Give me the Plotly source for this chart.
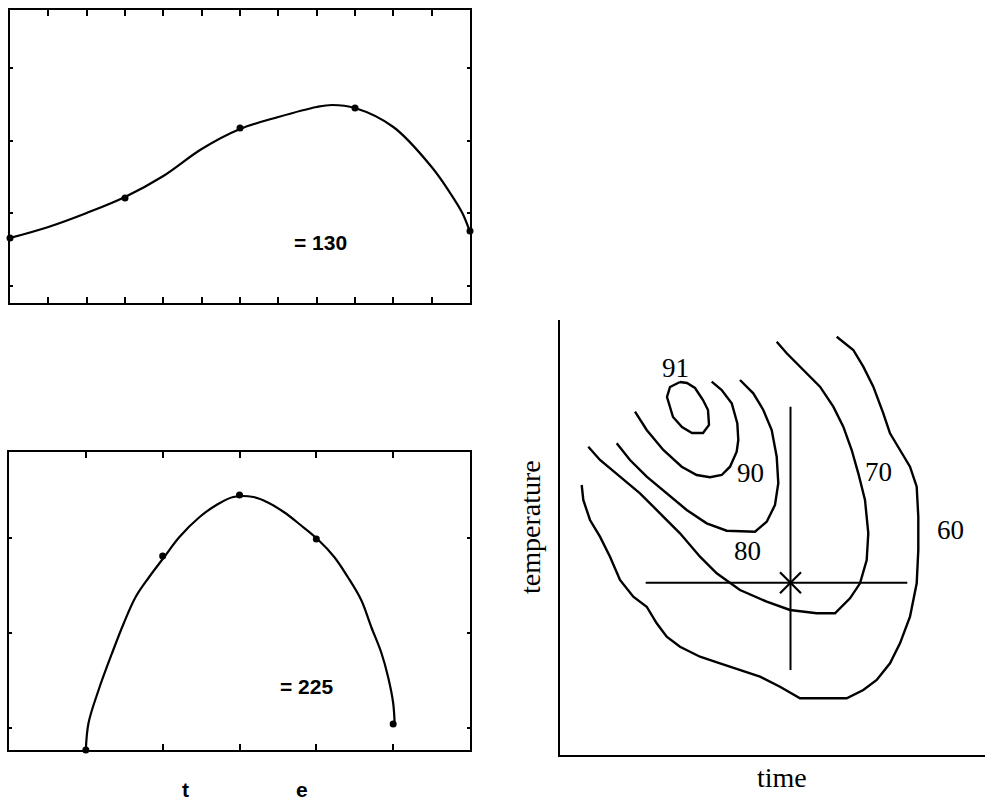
import plotly.graph_objects as go

# ---------------- Data ----------------
# Top-left panel (x in tick units 0..12, y in arbitrary response units)
top_pts_x = [0, 3, 6, 9, 12]
top_pts_y = [65, 105, 175, 195, 72]
top_curve_x = [0, 1, 2, 3, 4, 5, 6, 7, 8, 8.4, 9, 10, 11, 11.5, 11.8, 12]
top_curve_y = [65, 76, 90, 106, 127, 154, 174, 186, 196, 198, 195, 176, 136, 109, 90, 71]
top_label = "= 130"

# Bottom-left panel (x in tick units 0..6)
bot_pts_x = [1, 2, 3, 4, 5]
bot_pts_y = [0, 194, 255, 211, 26]
bot_curve_x = [1.0, 1.035, 1.166, 1.342, 1.495, 1.648, 1.824, 2.02, 2.218, 2.481, 2.7, 2.919,
               3.182, 3.357, 3.576, 3.795, 4.014, 4.233, 4.409, 4.584, 4.715, 4.847, 4.934, 5.0, 5.02]
bot_curve_y = [0, 27, 60, 97, 127, 153, 173, 193, 213, 233, 245, 253,
               253, 248, 238, 225, 211, 193, 173, 150, 123, 97, 73, 47, 25]
bot_label = "= 225"
bot_axis_letters = ["t", "e"]

# Right panel: contour lines (time, temperature)
c91_t = [120, 127, 135, 143, 148, 149, 143, 132, 122, 113, 110, 107, 110, 120]
c91_T = [373, 372, 367, 355, 345, 330, 322, 322, 328, 338, 348, 358, 368, 373]

c90_t = [75, 86.7, 103.3, 121.7, 136.7, 150, 161.7, 170, 176.7, 178.3, 177.3, 171.7, 161.7, 151.7]
c90_T = [343.3, 325, 305, 288.3, 280, 277.7, 280, 288.3, 303.3, 315, 331.7, 351.7, 365, 373.3]

c80_t = [56.7, 70, 86.7, 106.7, 126.7, 146.7, 166.7, 195, 206.7, 215, 218.3, 216.7, 211.7, 203.3, 193.3, 180]
c80_T = [311.7, 295, 278.3, 261.7, 245, 231.7, 224.3, 223.3, 233.3, 250, 271.7, 298.3, 325, 345, 361.7, 375]

c70_t = [28.3, 40, 60, 80, 100, 120, 140, 156.7, 180, 206.7, 230, 256.7, 275, 290, 300, 306.7,
         308.3, 305, 298.3, 291.7, 283.3, 273.3, 260, 240, 226.7, 216.7]
c70_T = [308.3, 295, 278.3, 261.7, 241.7, 221.7, 198.3, 181.7, 165, 153.3, 145, 141.7, 141.7, 156.7,
         171.7, 195, 221.7, 255, 281.7, 305, 328.3, 348.3, 368.3, 388.3, 401.7, 413.3]

c60_t = [21.7, 23.3, 30, 40, 50, 60, 73.3, 86.7, 96.7, 106.7, 120, 140, 160, 180, 200, 220, 233.3,
         240, 260, 286.7, 303.3, 316.7, 330, 340, 350, 356.7, 358.3, 358.3, 356.7, 350, 340, 330,
         323.3, 313.3, 303.3, 293.3, 276.7]
c60_T = [270, 255, 235, 218.3, 198.3, 175, 158.3, 148.3, 131.7, 118.3, 108.3, 98.3, 91.7, 85, 78.3,
         68.3, 60, 56.7, 56.7, 56.7, 65, 75, 91.7, 111.7, 138.3, 171.7, 205, 238.3, 268.3, 288.3,
         305, 321.7, 341.7, 368.3, 388.3, 405, 418.3]

contour_t = [c91_t, c90_t, c80_t, c70_t, c60_t]
contour_T = [c91_T, c90_T, c80_T, c70_T, c60_T]
contour_labels = ["91", "90", "80", "70", "60"]
label_t = [115, 190.7, 187.3, 318.3, 390]
label_T = [386.7, 281.7, 204.3, 283.3, 225]

# Optimum point and its cross-hair
opt_t, opt_T = 230.5, 172.3
vline_T = [85, 348.3]
hline_t = [85.7, 347.3]

W, H = 986, 800

fig = go.Figure()

# ---------------- Top-left panel ----------------
fig.add_trace(go.Scatter(x=top_curve_x, y=top_curve_y, mode="lines", line=dict(color="black", width=2.2, shape="spline"),
                         xaxis="x", yaxis="y", cliponaxis=False, hoverinfo="skip"))
fig.add_trace(go.Scatter(x=top_pts_x, y=top_pts_y, mode="markers", marker=dict(color="black", size=7),
                         xaxis="x", yaxis="y", cliponaxis=False))

# ---------------- Bottom-left panel ----------------
fig.add_trace(go.Scatter(x=bot_curve_x, y=bot_curve_y, mode="lines", line=dict(color="black", width=2.2, shape="spline"),
                         xaxis="x2", yaxis="y2", cliponaxis=False, hoverinfo="skip"))
fig.add_trace(go.Scatter(x=bot_pts_x, y=bot_pts_y, mode="markers", marker=dict(color="black", size=7),
                         xaxis="x2", yaxis="y2", cliponaxis=False))

# ---------------- Right panel ----------------
for tt, TT in zip(contour_t, contour_T):
    fig.add_trace(go.Scatter(x=tt, y=TT, mode="lines", line=dict(color="black", width=2.4),
                             xaxis="x3", yaxis="y3", cliponaxis=False, hoverinfo="skip"))
fig.add_trace(go.Scatter(x=[opt_t, opt_t], y=vline_T, mode="lines", line=dict(color="black", width=2),
                         xaxis="x3", yaxis="y3"))
fig.add_trace(go.Scatter(x=hline_t, y=[opt_T, opt_T], mode="lines", line=dict(color="black", width=2),
                         xaxis="x3", yaxis="y3"))
fig.add_trace(go.Scatter(x=[opt_t], y=[opt_T], mode="markers",
                         marker=dict(symbol="x-thin-open", size=21, color="black",
                                     line=dict(color="black", width=2.2)),
                         xaxis="x3", yaxis="y3"))

annotations = []
annotations.append(dict(x=8.09, y=60, xref="x", yref="y", text=top_label, showarrow=False,
                        font=dict(family="Liberation Sans, Arial", size=21, color="black", weight="bold")))
annotations.append(dict(x=3.875, y=63.3, xref="x2", yref="y2", text=bot_label, showarrow=False,
                        font=dict(family="Liberation Sans, Arial", size=21, color="black", weight="bold")))
for txt, px in zip(bot_axis_letters, [185, 302]):
    annotations.append(dict(x=px / W, y=1 - 789 / H, xref="paper", yref="paper", text=txt, showarrow=False,
                            font=dict(family="Liberation Sans, Arial", size=21, color="black", weight="bold"),
                            xanchor="center", yanchor="middle"))
for lab, lt, lT in zip(contour_labels, label_t, label_T):
    annotations.append(dict(x=lt, y=lT, xref="x3", yref="y3", text=lab, showarrow=False,
                            font=dict(family="Liberation Serif, Times New Roman", size=27, color="black")))
annotations.append(dict(x=782 / W, y=1 - 777 / H, xref="paper", yref="paper", text="time", showarrow=False,
                        font=dict(family="Liberation Serif, Times New Roman", size=28, color="black"),
                        xanchor="center", yanchor="middle"))
annotations.append(dict(x=530 / W, y=1 - 527 / H, xref="paper", yref="paper", text="temperature", showarrow=False,
                        textangle=-90,
                        font=dict(family="Liberation Serif, Times New Roman", size=28, color="black"),
                        xanchor="center", yanchor="middle"))

frame = dict(showline=True, linecolor="black", linewidth=2, mirror="allticks", ticks="inside",
             tickcolor="black", tickwidth=1.5, showticklabels=False, showgrid=False, zeroline=False,
             fixedrange=True)

fig.update_layout(
    width=W, height=H, autosize=False,
    margin=dict(l=0, r=0, t=0, b=0, pad=0),
    paper_bgcolor="white", plot_bgcolor="white",
    showlegend=False,
    annotations=annotations,
    xaxis=dict(domain=[10 / W, 470 / W], range=[0, 12], dtick=1, ticklen=6, anchor="y", **frame),
    yaxis=dict(domain=[1 - 303 / H, 1 - 10 / H], range=[0, 293], tickvals=[17, 90, 162, 235], ticklen=3,
               anchor="x", **frame),
    xaxis2=dict(domain=[9 / W, 470 / W], range=[0, 6], dtick=1, ticklen=6, anchor="y2", **frame),
    yaxis2=dict(domain=[1 - 750 / H, 1 - 452 / H], range=[0, 298], tickvals=[22, 117, 212], ticklen=3,
                anchor="x2", **frame),
    xaxis3=dict(domain=[560 / W, 985 / W], range=[0, 425], showline=True, linecolor="black", linewidth=2,
                ticks="", showticklabels=False, showgrid=False, zeroline=False, anchor="y3"),
    yaxis3=dict(domain=[1 - 755 / H, 1 - 320 / H], range=[0, 435], showline=True, linecolor="black", linewidth=2,
                ticks="", showticklabels=False, showgrid=False, zeroline=False, anchor="x3"),
)

fig.write_html("out.html")
